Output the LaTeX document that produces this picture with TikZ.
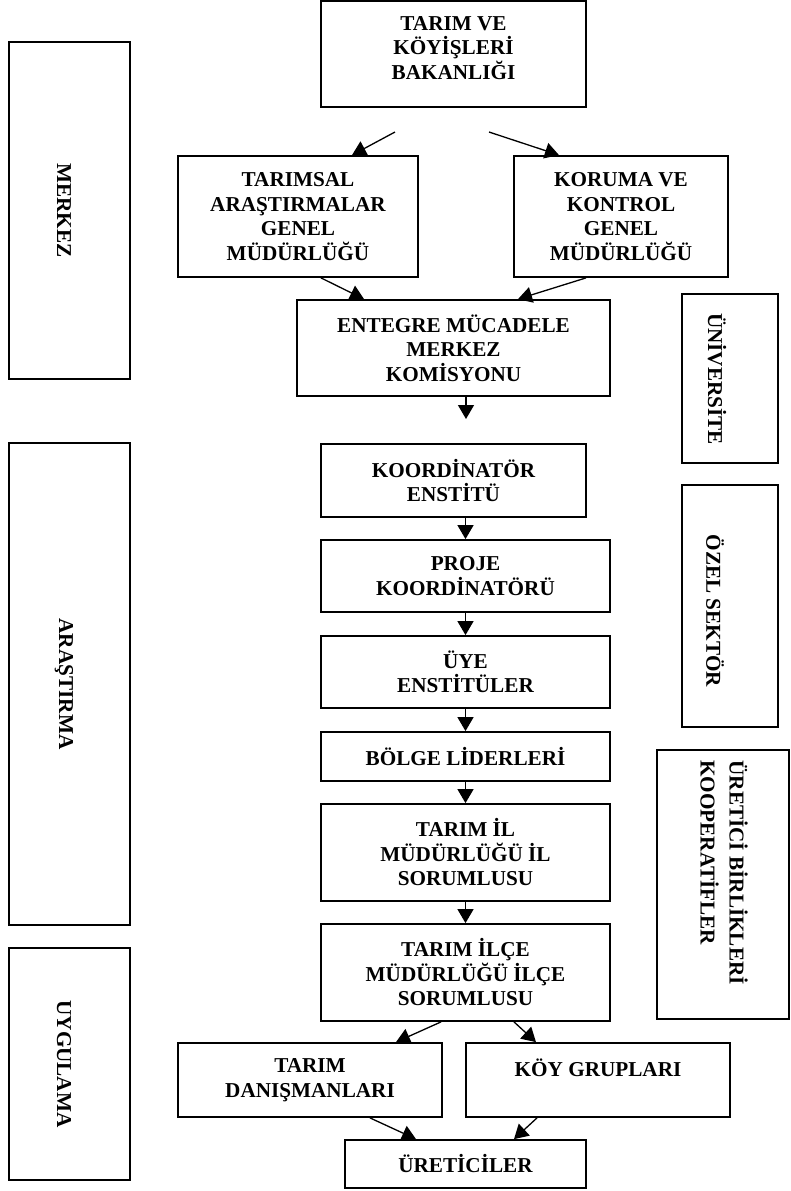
\documentclass[tikz,border=0pt]{standalone}
\usepackage{fontspec}
\setmainfont{Liberation Serif}
\usetikzlibrary{arrows.meta}
\begin{document}
\begin{tikzpicture}[x=0.5pt,y=-0.5pt,
  every node/.style={font=\fontsize{10.6}{12.25}\selectfont\bfseries},
  box/.style={draw, line width=0.9pt, inner sep=0pt, align=center},
  side/.style={draw, line width=0.7pt, inner sep=0pt},
  lbl/.style={inner sep=0pt, align=center},
  vtext/.style={rotate=-90, inner sep=0pt, align=left},
  arr/.style={line width=0.65pt, -{Triangle[length=7pt,width=8pt]}}]
\useasboundingbox (0,0) rectangle (791,1191);
\fill[white] (0,0) rectangle (791,1191);

% main column
\node[box, minimum width=132.5pt, minimum height=53pt] (T) at (453.5,54) {};
\node[lbl] (tT) at (453.5,48) {TARIM VE\\KÖYİŞLERİ\\BAKANLIĞI};
\node[box, minimum width=120pt, minimum height=60.5pt] (A) at (298,216.5) {TARIMSAL\\ARAŞTIRMALAR\\GENEL\\MÜDÜRLÜĞÜ};
\node[box, minimum width=107pt, minimum height=60.5pt] (K) at (621,216.5) {KORUMA VE\\KONTROL\\GENEL\\MÜDÜRLÜĞÜ};
\node[box, minimum width=156.5pt, minimum height=48pt] (E) at (453.5,348) {ENTEGRE MÜCADELE\\MERKEZ\\KOMİSYONU};
\node[box, minimum width=132.5pt, minimum height=36.5pt] (KO) at (453.5,480.5) {KOORDİNATÖR\\ENSTİTÜ};
\node[box, minimum width=144.5pt, minimum height=36pt] (P) at (465.5,576) {PROJE\\KOORDİNATÖRÜ};
\node[box, minimum width=144.5pt, minimum height=36pt] (U) at (465.5,672) {ÜYE\\ENSTİTÜLER};
\node[box, minimum width=144.5pt, minimum height=24.5pt] (B) at (465.5,756.5) {BÖLGE LİDERLERİ};
\node[box, minimum width=144.5pt, minimum height=48.5pt] (IL) at (465.5,852.5) {TARIM İL\\MÜDÜRLÜĞÜ İL\\SORUMLUSU};
\node[box, minimum width=144.5pt, minimum height=48.5pt] (ILC) at (465.5,972.5) {TARIM İLÇE\\MÜDÜRLÜĞÜ İLÇE\\SORUMLUSU};
\node[box, minimum width=132pt, minimum height=37pt] (D) at (310,1080) {TARIM\\DANIŞMANLARI};
\node[box, minimum width=132pt, minimum height=37pt] (G) at (598,1080) {};
\node[lbl] (tG) at (598,1068) {KÖY GRUPLARI};
\node[box, minimum width=120.5pt, minimum height=24pt] (R) at (465.5,1164) {ÜRETİCİLER};

% side boxes
\node[side, minimum width=60.5pt, minimum height=168.5pt] (M) at (69.5,210.5) {};
\node[vtext] (tM) at (64,210.5) {MERKEZ};
\node[side, minimum width=60.5pt, minimum height=241pt] (AR) at (69.5,684) {};
\node[vtext] (tAR) at (64,684) {ARAŞTIRMA};
\node[side, minimum width=60.5pt, minimum height=116pt] (UY) at (69.5,1064) {};
\node[vtext] (tUY) at (64,1064) {UYGULAMA};
\node[side, minimum width=48pt, minimum height=84.5pt] (UN) at (730,378.5) {};
\node[vtext] (tUN) at (717,379) {ÜNİVERSİTE};
\node[side, minimum width=48pt, minimum height=121pt] (OZ) at (730,606) {};
\node[vtext] (tOZ) at (715,611) {ÖZEL SEKTÖR};
\node[side, minimum width=66pt, minimum height=134.5pt] (UB) at (723,884.5) {};
\node[vtext, anchor=west, font=\fontsize{10.6}{14.5}\selectfont\bfseries] (tUB) at (724,760) {ÜRETİCİ BİRLİKLERİ\\KOOPERATİFLER};

% connectors
\coordinate (c1) at (395,132);
\coordinate (c2) at (489,132);
\coordinate (c3) at (466,419);
\draw[arr] (c1) -- (A.north -| 352,0);
\draw[arr] (c2) -- (K.north -| 559,0);
\draw[arr] (A.south -| 321,0) -- (E.north -| 364,0);
\draw[arr] (K.south -| 586,0) -- (E.north -| 518,0);
\draw[arr] (E.south -| c3) -- (c3);
\draw[arr] (KO.south -| P.north) -- (P.north);
\draw[arr] (P.south) -- (U.north);
\draw[arr] (U.south) -- (B.north);
\draw[arr] (B.south) -- (IL.north);
\draw[arr] (IL.south) -- (ILC.north);
\draw[arr] (ILC.south -| 441,0) -- (D.north -| 396,0);
\draw[arr] (ILC.south -| 514,0) -- (G.north -| 536,0);
\draw[arr] (D.south -| 370,0) -- (R.north -| 416,0);
\draw[arr] (G.south -| 537,0) -- (R.north -| 514,0);
\end{tikzpicture}
\end{document}
